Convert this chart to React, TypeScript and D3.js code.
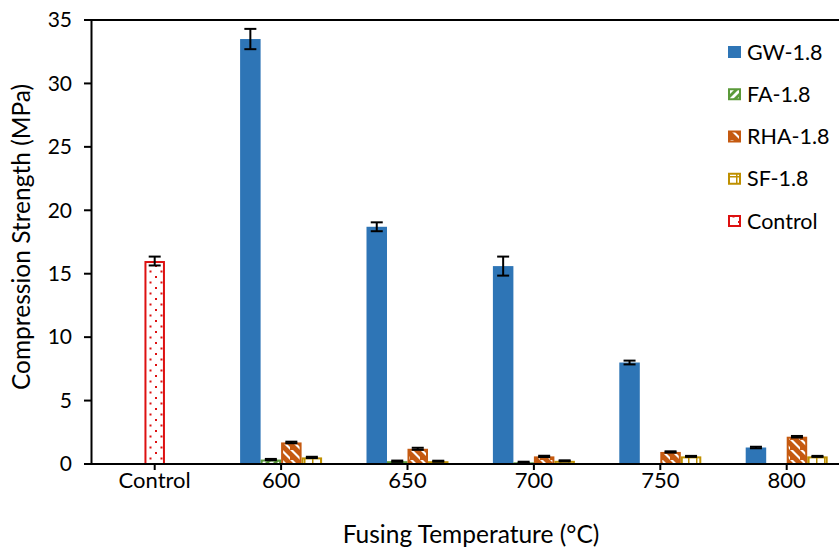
import React from "react";
import * as d3 from "d3";

const categories = ["Control", "600", "650", "700", "750", "800"];
const seriesNames = ["GW-1.8", "FA-1.8", "RHA-1.8", "SF-1.8"];
const gwValues = [33.5, 18.7, 15.6, 8.0, 1.3];
const gwErrors = [0.8, 0.35, 0.75, 0.15, 0.06];
const faValues = [0.35, 0.22, 0.13, 0, 0];
const faErrors = [0.05, 0.05, 0.05, 0, 0];
const rhaValues = [1.7, 1.2, 0.6, 0.95, 2.15];
const rhaErrors = [0.06, 0.08, 0.05, 0.05, 0.06];
const sfValues = [0.52, 0.22, 0.25, 0.6, 0.6];
const sfErrors = [0.05, 0.04, 0.04, 0.04, 0.04];
const controlValue = 16.0;
const controlError = 0.35;
const yTicks = [0, 5, 10, 15, 20, 25, 30, 35];

const W = 839;
const H = 548;
const FONT = "Lato, 'Open Sans', sans-serif";

const seriesFill = ["#2E75B6", "url(#pFA)", "url(#pRHA)", "url(#pSF)"];
const seriesStroke = ["#2E75B6", "#5B9A3A", "#C55A11", "#BF9000"];

export default function App() {
  const x0 = 91.5;
  const catW = 126.4;
  const x = d3.scaleBand<string>().domain(categories).range([x0, x0 + catW * categories.length]).padding(0);
  const y = d3.scaleLinear().domain([0, 35]).range([464, 20]);
  const groupW = 82;
  const inner = d3.scaleBand<string>().domain(seriesNames).range([0, groupW]).padding(0);
  const bw = inner.bandwidth();
  const center = (c: string) => (x(c) as number) + x.bandwidth() / 2;

  const seriesData = [
    { vals: gwValues, errs: gwErrors },
    { vals: faValues, errs: faErrors },
    { vals: rhaValues, errs: rhaErrors },
    { vals: sfValues, errs: sfErrors },
  ];
  const tempCats = categories.slice(1);

  const errBar = (cx: number, v: number, e: number, key: string) => {
    if (e <= 0) return null;
    const cap = 6;
    return (
      <g key={key} stroke="#000" strokeWidth={2}>
        <line x1={cx} x2={cx} y1={y(v + e)} y2={y(v - e)} />
        <line x1={cx - cap} x2={cx + cap} y1={y(v + e)} y2={y(v + e)} />
        <line x1={cx - cap} x2={cx + cap} y1={y(v - e)} y2={y(v - e)} />
      </g>
    );
  };

  const legendItems = [
    { name: "GW-1.8", fill: seriesFill[0], stroke: seriesStroke[0] },
    { name: "FA-1.8", fill: seriesFill[1], stroke: seriesStroke[1] },
    { name: "RHA-1.8", fill: seriesFill[2], stroke: seriesStroke[2] },
    { name: "SF-1.8", fill: seriesFill[3], stroke: seriesStroke[3] },
    { name: "Control", fill: "url(#pCtrl)", stroke: "#DD1111" },
  ];
  const legendY = d3.scalePoint<string>().domain(legendItems.map((d) => d.name)).range([52, 221]);

  return (
    <svg width={W} height={H} style={{ display: "block", position: "absolute", left: 0, top: 0, background: "#fff" }} fontFamily={FONT}>
      <defs>
        <pattern id="pFA" patternUnits="userSpaceOnUse" width="8" height="8">
          <rect width="8" height="8" fill="#fff" />
          <path d="M0,8 L8,0 L8,4 L4,8 Z M0,0 L0,4 L4,0 Z" fill="#5B9A3A" />
        </pattern>
        <pattern id="pRHA" patternUnits="userSpaceOnUse" width="10" height="10">
          <rect width="10" height="10" fill="#C55A11" />
          <path d="M0,0 L3,0 L10,7 L10,10 Z" fill="#fff" />
        </pattern>
        <pattern id="pSF" patternUnits="userSpaceOnUse" width="8" height="8">
          <rect width="8" height="8" fill="#fff" />
          <rect x="0" y="0" width="8" height="1.5" fill="#BF9000" />
          <rect x="0" y="0" width="1.5" height="8" fill="#BF9000" />
        </pattern>
        <pattern id="pCtrl" patternUnits="userSpaceOnUse" width="11" height="11">
          <rect width="11" height="11" fill="#fff" />
          <rect x="1" y="1" width="2" height="2" fill="#DD1111" />
          <rect x="6.5" y="6.5" width="2" height="2" fill="#DD1111" />
        </pattern>
      </defs>

      {/* bars */}
      {tempCats.map((c, ci) => (
        <g key={c}>
          {seriesData.map((s, si) => {
            const v = s.vals[ci];
            if (v <= 0) return null;
            const bx = center(c) - groupW / 2 + (inner(seriesNames[si]) as number);
            const patterned = si > 0;
            return (
              <rect
                key={si}
                x={bx + (patterned ? 1 : 0)}
                y={y(v) + (patterned ? 1 : 0)}
                width={bw - (patterned ? 2 : 0)}
                height={Math.max(0, y(0) - y(v) - (patterned ? 1 : 0))}
                fill={seriesFill[si]}
                stroke={patterned ? seriesStroke[si] : "none"}
                strokeWidth={2}
              />
            );
          })}
          {seriesData.map((s, si) => {
            const bx = center(c) - groupW / 2 + (inner(seriesNames[si]) as number) + bw / 2;
            return errBar(bx, s.vals[ci], s.errs[ci], "e" + si);
          })}
        </g>
      ))}
      {/* control bar */}
      <rect
        x={center("Control") - bw / 2 + 1}
        y={y(controlValue) + 1}
        width={bw - 2}
        height={y(0) - y(controlValue) - 1}
        fill="url(#pCtrl)"
        stroke="#DD1111"
        strokeWidth={2}
      />
      {errBar(center("Control"), controlValue, controlError, "ec")}

      {/* axes */}
      <line x1={84} x2={W} y1={y(35)} y2={y(35)} stroke="#000" strokeWidth={2} />
      <line x1={x0} x2={x0} y1={y(35) - 1} y2={y(0) + 1} stroke="#000" strokeWidth={2} />
      <line x1={x0} x2={W} y1={y(0)} y2={y(0)} stroke="#000" strokeWidth={2} />
      {yTicks.map((t) => (
        <g key={t}>
          <line x1={84} x2={x0} y1={y(t)} y2={y(t)} stroke="#000" strokeWidth={2} />
          <text x={72} y={y(t)} dy="0.35em" textAnchor="end" fontSize={21} fill="#000">
            {t}
          </text>
        </g>
      ))}
      {categories.map((c) => (
        <g key={c}>
          <line x1={center(c)} x2={center(c)} y1={y(0)} y2={y(0) + 6} stroke="#000" strokeWidth={2} />
          <text x={center(c)} y={488} textAnchor="middle" fontSize={22} fill="#000">
            {c}
          </text>
        </g>
      ))}
      <text x={471} y={543} textAnchor="middle" fontSize={24.5} fill="#000">
        Fusing Temperature (°C)
      </text>
      <text transform={`translate(30,237) rotate(-90)`} textAnchor="middle" fontSize={24.5} fill="#000">
        Compression Strength (MPa)
      </text>

      {/* legend */}
      {legendItems.map((d) => {
        const cy = legendY(d.name) as number;
        const solid = d.name === "GW-1.8";
        return (
          <g key={d.name}>
            <rect
              x={solid ? 728 : 729}
              y={cy - 6 + (solid ? 0 : 1)}
              width={solid ? 13 : 11}
              height={solid ? 12 : 10}
              fill={d.fill}
              stroke={solid ? "none" : d.stroke}
              strokeWidth={2}
            />
            <text x={747} y={cy} dy="0.36em" fontSize={21.5} fill="#000">
              {d.name}
            </text>
          </g>
        );
      })}
    </svg>
  );
}
